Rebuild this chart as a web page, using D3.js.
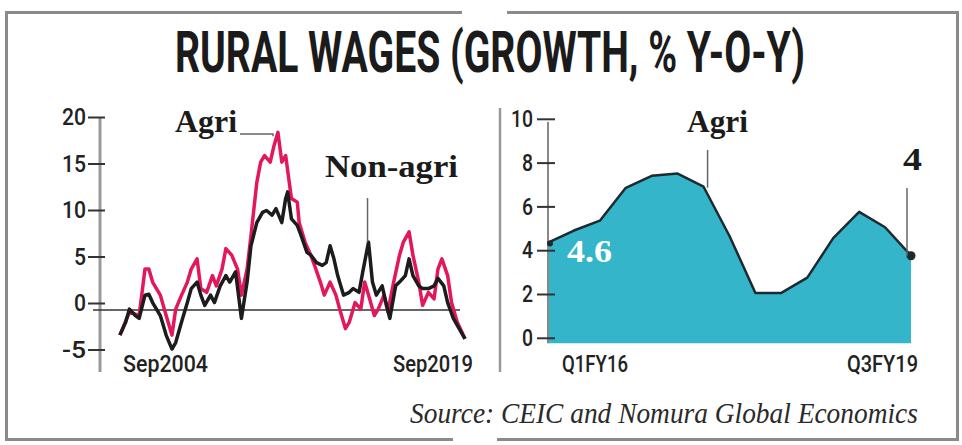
<!DOCTYPE html>
<html>
<head>
<meta charset="utf-8">
<script src="https://cdn.jsdelivr.net/npm/d3@7"></script>
<style>
  body { margin: 0; background: #fff; }
  .wrapper { width: 962px; height: 445px; }
  .tick text { font-family: Roboto, "Liberation Sans", sans-serif; font-weight: 500; fill: #222; }
</style>
</head>
<body>
<div class="wrapper"></div>
<script>
// long series, monthly data (sampled)
var agriDates = ["2004-10","2005-03","2005-08","2005-11","2006-01","2006-03","2006-07","2006-10","2007-01","2007-03","2007-06","2007-09","2007-11","2008-02","2008-04","2008-07","2008-10","2008-12","2009-03","2009-05","2009-08","2009-11","2010-01","2010-04","2010-06","2010-09","2010-11","2011-01","2011-04","2011-06","2011-08","2011-10","2011-12","2012-03","2012-06","2012-07","2012-10","2013-01","2013-03","2013-06","2013-08","2013-11","2014-02","2014-04","2014-07","2014-09","2014-12","2015-03","2015-05","2015-07","2015-10","2015-12","2016-03","2016-05","2016-08","2016-11","2017-01","2017-04","2017-06","2017-09","2017-11","2018-02","2018-05","2018-07","2018-09","2018-12","2019-02","2019-05","2019-09"];
var agriValues = [-2.7,-0.2,-0.6,4.4, 4.4,3.0,1.6,-0.6, -2.7,0.1,1.6,3.0,4.4, 5.5,2.3,1.9,3.7,2.6, 4.4,6.6,5.9,4.4, 1.6,4.4,8.0,13.7,15.9, 16.6,15.9,17.7,19.1,15.9,16.6, 12.0,11.6,9.4,7.3, 5.9,4.8,3.0,1.6,3.0, 1.6,0.1,-2.0,-1.3,0.8, 0.1,3.0,1.6,-0.6,0.1, 1.6,-0.2,3.0,5.9, 7.3,8.4,5.9,3.0,0.5, 1.9,1.2,4.4,5.5,3.7, 0.8,-1.3,-3.1];

var nonAgriDates = ["2004-10","2005-01","2005-03","2005-06","2005-08","2005-11","2006-01","2006-03","2006-07","2006-10","2007-01","2007-03","2007-06","2007-09","2007-11","2008-02","2008-04","2008-06","2008-09","2008-11","2009-02","2009-05","2009-07","2009-10","2009-12","2010-01","2010-04","2010-06","2010-09","2010-12","2011-02","2011-05","2011-07","2011-10","2011-12","2012-01","2012-03","2012-06","2012-08","2012-11","2013-01","2013-04","2013-07","2013-09","2013-11","2014-01","2014-03","2014-06","2014-09","2014-11","2015-02","2015-04","2015-07","2015-09","2015-11","2016-02","2016-04","2016-06","2016-09","2016-11","2017-02","2017-04","2017-06","2017-09","2017-11","2018-02","2018-05","2018-07","2018-10","2018-12","2019-03","2019-06","2019-09"];
var nonAgriValues = [-2.7, -1.3,0.1,-0.6,-0.9,1.6, 1.7,0.8,-0.6,-2.7, -4.2,-3.5,-1.3,0.8,2.3, 3.0,1.6,0.5,1.6,0.8, 2.6,3.7,3.0,4.1,0.8, -0.9,3.0,6.9,9.4,10.5, 10.7,10.2,10.9,9.4,12.0, 12.7,9.8,9.1,8.0,6.2, 5.9,5.1,4.8,5.1,6.9, 5.5,3.7,1.6,1.9,2.3, 1.9,4.1,7.3,3.0,1.6, 2.6,0.8,-0.9,2.6,3.0, 3.7,5.5,3.7,2.6,2.3, 2.3,2.6,3.4,2.6,0.8, -0.9,-2.0,-3.1];

var leftTicks = [-5, 0, 5, 10, 15, 20];

// quarterly series
var quarters = ["Q1FY16","Q2FY16","Q3FY16","Q4FY16","Q1FY17","Q2FY17","Q3FY17","Q4FY17","Q1FY18","Q2FY18","Q3FY18","Q4FY18","Q1FY19","Q2FY19","Q3FY19"];
var agriRecent = [4.6,5.15,5.6,7.1,7.65,7.75,7.15,4.9,2.3,2.3,3.0,4.8,6.0,5.3,4.0];
var rightTicks = [0, 2, 4, 6, 8, 10];

var w = 962, h = 445,
    parse = d3.timeParse("%Y-%m"),
    serif = "'Liberation Serif', 'DejaVu Serif', serif",
    sans = "Roboto, 'Liberation Sans', sans-serif";

var svg = d3.select(".wrapper").append("svg")
    .attr("width", w)
    .attr("height", h);

// squeeze a text horizontally to a given width (condensed look)
function fit(sel, x, y, width) {
  var len = sel.node().getComputedTextLength();
  sel.attr("transform", "translate(" + x + "," + y + ") scale(" + (width / len) + ",1)");
  return sel;
}

// frame
svg.append("path")
    .attr("d", "M462,12.5 H6.5 V439.5 H453 M497,439.5 H957.5 V12.5 H507")
    .attr("fill", "none").attr("stroke", "#8a8a8a").attr("stroke-width", 3);

fit(svg.append("text")
    .style("font-family", sans).style("font-weight", 700).style("font-size", "58px")
    .attr("fill", "#1b1b1b")
    .text("RURAL WAGES (GROWTH, % Y-O-Y)"), 175, 72, 630);

fit(svg.append("text")
    .style("font-family", serif).style("font-style", "italic").style("font-size", "30px")
    .attr("fill", "#2a2a2a")
    .text("Source: CEIC and Nomura Global Economics"), 410, 423, 508);

// ---------- left panel ----------
var x1 = d3.scaleTime().domain([parse("2004-09"), parse("2019-09")]).range([118, 465]),
    y1 = d3.scaleLinear().domain([-5, 20]).range([356.5, 124]);

svg.append("line").attr("x1", 100).attr("x2", 100).attr("y1", 117).attr("y2", 372)
    .attr("stroke", "#9a9a9a").attr("stroke-width", 3);

var ax1 = svg.append("g")
    .attr("transform", "translate(105,-7)")
    .call(d3.axisLeft(y1).tickValues(leftTicks).tickFormat(String).tickSize(17).tickPadding(2));
ax1.select(".domain").remove();
ax1.selectAll(".tick line").attr("stroke", "#333").attr("stroke-width", 2);
ax1.selectAll(".tick text").style("font-size", "24px")
    .attr("textLength", function(d) { return String(d).length * 12; })
    .attr("lengthAdjust", "spacingAndGlyphs");

svg.append("line")
    .attr("x1", 93).attr("x2", 460).attr("y1", y1(0)).attr("y2", y1(0))
    .attr("stroke", "#333").attr("stroke-width", 1.5);

var line1 = d3.line()
    .x(function(d) { return x1(d.date); })
    .y(function(d) { return y1(d.value); });

var agri = agriDates.map(function(d, i) { return {date: parse(d), value: agriValues[i]}; }),
    nonAgri = nonAgriDates.map(function(d, i) { return {date: parse(d), value: nonAgriValues[i]}; });

svg.append("path").datum(agri)
    .attr("d", line1).attr("fill", "none")
    .attr("stroke", "#e2185a").attr("stroke-width", 3.5).attr("stroke-linejoin", "round");
svg.append("path").datum(nonAgri)
    .attr("d", line1).attr("fill", "none")
    .attr("stroke", "#1c1c1c").attr("stroke-width", 3.5).attr("stroke-linejoin", "round");

// labels + leaders
var peak = agri[d3.maxIndex(agri, function(d) { return d.value; })],
    spike = nonAgri[52];

svg.append("polyline")
    .attr("points", [[240, 134], [x1(peak.date) - 5, 134], [x1(peak.date) - 5, y1(peak.value) + 4]].join(" "))
    .attr("fill", "none").attr("stroke", "#666").attr("stroke-width", 1.5);
svg.append("line")
    .attr("x1", x1(spike.date) - 1).attr("x2", x1(spike.date) - 1)
    .attr("y1", 198).attr("y2", y1(spike.value))
    .attr("stroke", "#666").attr("stroke-width", 1.5);

function label(x, y, txt, len, size, color) {
  return svg.append("text")
      .attr("x", x).attr("y", y)
      .attr("textLength", len).attr("lengthAdjust", "spacingAndGlyphs")
      .style("font-family", serif).style("font-weight", 700).style("font-size", size + "px")
      .attr("fill", color || "#1b1b1b")
      .text(txt);
}
label(175, 132, "Agri", 62, 32);
label(325, 177, "Non-agri", 133, 32);

function xlabel(x, y, txt, len) {
  return svg.append("text")
      .attr("x", x).attr("y", y)
      .attr("textLength", len).attr("lengthAdjust", "spacingAndGlyphs")
      .style("font-family", sans).style("font-weight", 500).style("font-size", "23px")
      .attr("fill", "#222")
      .text(txt);
}
xlabel(123, 372, "Sep2004", 85);
xlabel(393, 372, "Sep2019", 80);

// divider
svg.append("line").attr("x1", 500).attr("x2", 500).attr("y1", 108).attr("y2", 372)
    .attr("stroke", "#999").attr("stroke-width", 2.5);

// ---------- right panel ----------
var x2 = d3.scalePoint().domain(quarters).range([548, 911]),
    y2 = d3.scaleLinear().domain([0, 10]).range([343.3, 124.3]);

var recent = quarters.map(function(q, i) { return {q: q, value: agriRecent[i]}; });

svg.append("path").datum(recent)
    .attr("d", d3.area()
        .x(function(d) { return x2(d.q); })
        .y0(y2(0))
        .y1(function(d) { return y2(d.value); }))
    .attr("fill", "#35b5c9");

svg.append("line").attr("x1", 548).attr("x2", 548).attr("y1", 122).attr("y2", y2(0))
    .attr("stroke", "#888").attr("stroke-width", 2);

var ax2 = svg.append("g")
    .attr("transform", "translate(555,-5.5)")
    .call(d3.axisLeft(y2).tickValues(rightTicks).tickFormat(String).tickSize(18).tickPadding(4));
ax2.select(".domain").remove();
ax2.selectAll(".tick line").attr("stroke", "#333").attr("stroke-width", 2);
ax2.selectAll(".tick text").style("font-size", "24px")
    .attr("textLength", function(d) { return String(d).length * 11; })
    .attr("lengthAdjust", "spacingAndGlyphs");

svg.append("path").datum(recent)
    .attr("d", d3.line()
        .x(function(d) { return x2(d.q); })
        .y(function(d) { return y2(d.value); }))
    .attr("fill", "none").attr("stroke", "#1d2a30").attr("stroke-width", 2.5)
    .attr("stroke-linejoin", "round");

var first = recent[0], last = recent[recent.length - 1], bend = recent[6];

svg.append("circle").attr("cx", x2(first.q) + 2).attr("cy", y2(first.value) + 1).attr("r", 3).attr("fill", "#1d2a30");
svg.append("circle").attr("cx", x2(last.q)).attr("cy", y2(last.value)).attr("r", 4.5).attr("fill", "#1d2a30");

svg.append("line")
    .attr("x1", x2(bend.q) + 4).attr("x2", x2(bend.q) + 4)
    .attr("y1", 150).attr("y2", y2(bend.value) + 1)
    .attr("stroke", "#666").attr("stroke-width", 1.5);
svg.append("line")
    .attr("x1", x2(last.q) - 4).attr("x2", x2(last.q) - 4)
    .attr("y1", 188).attr("y2", y2(last.value))
    .attr("stroke", "#666").attr("stroke-width", 1.5);

label(687, 132, "Agri", 61, 32);
label(903, 170, "4", 19, 31);
label(567, 262, "4.6", 45, 31, "#fff");

xlabel(562, 372, "Q1FY16", 66);
xlabel(847, 372, "Q3FY19", 71);
</script>
</body>
</html>
